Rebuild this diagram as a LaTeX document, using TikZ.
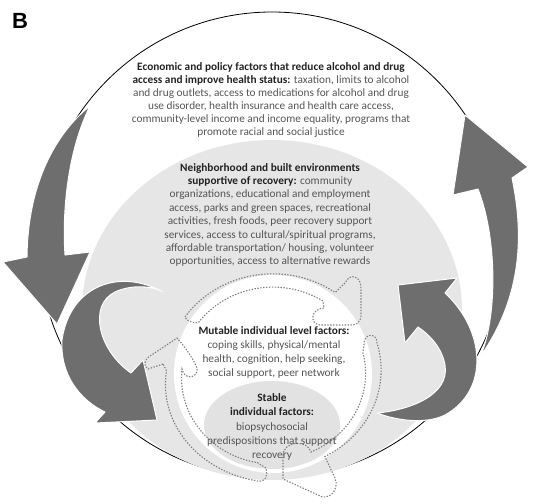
\documentclass[tikz,border=0pt]{standalone}
\usepackage{fontspec}
\setmainfont{Carlito}
\newfontfamily\panelfont{Liberation Sans}
\usepackage{tikz}
\usetikzlibrary{positioning}

\definecolor{ringgray}{HTML}{E6E6E6}
\definecolor{stablegray}{HTML}{E2E2E2}
\definecolor{arrowgray}{HTML}{6E6E6E}
\definecolor{textgray}{HTML}{555555}
\definecolor{headgray}{HTML}{222222}
\definecolor{dashgray}{HTML}{7E7E7E}

\newcommand{\factorhead}[1]{\textcolor{headgray}{\textbf{#1}}}

\begin{document}
\begin{tikzpicture}[
  x=1pt, y=-1pt,
  zone/.style={fill=ringgray, draw=none},
  bigarrow/.style={fill=arrowgray, draw=white, line width=1pt, line join=round},
  puzzle/.style={draw=dashgray, line width=1.1pt, dash pattern=on 1.4pt off 1.5pt},
  factor/.style={align=center, text=textgray, inner sep=0pt,
                 font=\fontsize{11.3}{13.4}\selectfont}
]
\useasboundingbox (0,0) rectangle (537,503);

% outer ring and neighborhood zone
\draw[black, line width=0.8pt] (272,245) circle[radius=233];
\fill[zone] (272,310) ellipse[x radius=190, y radius=170];

% big arrows on the outer ring
\path[bigarrow] (90,106) .. controls (62,128) and (28,175) .. (27,257) -- (3,262) -- (57,324)
  -- (90,252) -- (65,255) .. controls (62,210) and (68,150) .. (90,106) -- cycle;
\path[bigarrow] (480,357) .. controls (497,320) and (498,240) .. (478,189) -- (453,195) -- (465,115)
  -- (528,167) -- (512,178) .. controls (525,240) and (520,300) .. (480,357) -- cycle;

% curved arrows inside
\path[bigarrow] (163,292) .. controls (120,268) and (70,285) .. (62,340)
  .. controls (60,375) and (80,400) .. (105,412) -- (95,423) -- (157,420) -- (143,360) -- (131,373)
  .. controls (98,350) and (88,305) .. (115,292) .. controls (130,285) and (150,285) .. (163,292) -- cycle;
\path[bigarrow] (398,285) -- (457,278) -- (445,293) .. controls (485,330) and (490,390) .. (445,415)
  .. controls (425,425) and (395,420) .. (377,413) .. controls (410,410) and (450,395) .. (445,365)
  .. controls (442,348) and (430,335) .. (418,327) -- (405,343) -- cycle;

% individual levels
\fill[white] (273,374) circle[radius=99];
\fill[stablegray] (272,425) ellipse[x radius=68, y radius=44];

% dashed puzzle ring
\draw[puzzle] (185,317) arc[start angle=214, end angle=306, x radius=106, y radius=98]
  -- (345,283) .. controls (350,272) and (362,276) .. (361,290) -- (361,316)
  .. controls (360,324) and (355,325) .. (350,325) -- (320,325)
  .. controls (309,324) and (311,308) .. (324,308) -- (323,301)
  arc[start angle=303, end angle=216, x radius=92, y radius=86]
  .. controls (192,323) and (186,321) .. (185,317);
\draw[puzzle] (364,345) .. controls (363,333) and (377,332) .. (377,343)
  arc[start angle=-16, end angle=62, x radius=106, y radius=98]
  -- (335,478) .. controls (340,490) and (328,502) .. (318,495) -- (283,479) -- (283,455)
  .. controls (284,440) and (308,440) .. (311,452)
  arc[start angle=66, end angle=-14, x radius=92, y radius=86] -- cycle;
\draw[puzzle] (163,364) -- (148,369) .. controls (143,366) and (144,360) .. (150,356) -- (177,338)
  .. controls (186,348) and (194,360) .. (197,368) .. controls (199,378) and (184,381) .. (182,369)
  arc[start angle=186, end angle=100, x radius=92, y radius=86]
  -- (266,468) .. controls (268,476) and (266,482) .. (258,481)
  arc[start angle=100, end angle=188, x radius=112, y radius=98] -- cycle;

% texts
\node[font=\panelfont\bfseries\fontsize{22}{24}\selectfont, inner sep=0pt] (panel) at (20,21) {B};

\node[factor, font=\fontsize{11.3}{12.9}\selectfont] (econ) at (271,100) {%
  \factorhead{Economic and policy factors that reduce alcohol and drug}\\
  \factorhead{access and improve health status:} taxation, limits to alcohol\\
  and drug outlets, access to medications for alcohol and drug\\
  use disorder, health insurance and health care access,\\
  community-level income and income equality, programs that\\
  promote racial and social justice};

\node[factor] (neigh) at (270,215) {%
  \factorhead{Neighborhood and built environments}\\
  \factorhead{supportive of recovery:} community\\
  organizations, educational and employment\\
  access, parks and green spaces, recreational\\
  activities, fresh foods, peer recovery support\\
  services, access to cultural/spiritual programs,\\
  affordable transportation/ housing, volunteer\\
  opportunities, access to alternative rewards};

\node[factor, font=\fontsize{11.3}{14}\selectfont] (mutable) at (274,352) {%
  \factorhead{Mutable individual level factors:}\\
  coping skills, physical/mental\\
  health, cognition, help seeking,\\
  social support, peer network};

\node[factor, font=\fontsize{11.3}{14.2}\selectfont] (stable) at (272,427) {%
  \factorhead{Stable}\\
  \factorhead{individual factors:}\\
  biopsychosocial\\
  predispositions that support\\
  recovery};
\end{tikzpicture}
\end{document}
